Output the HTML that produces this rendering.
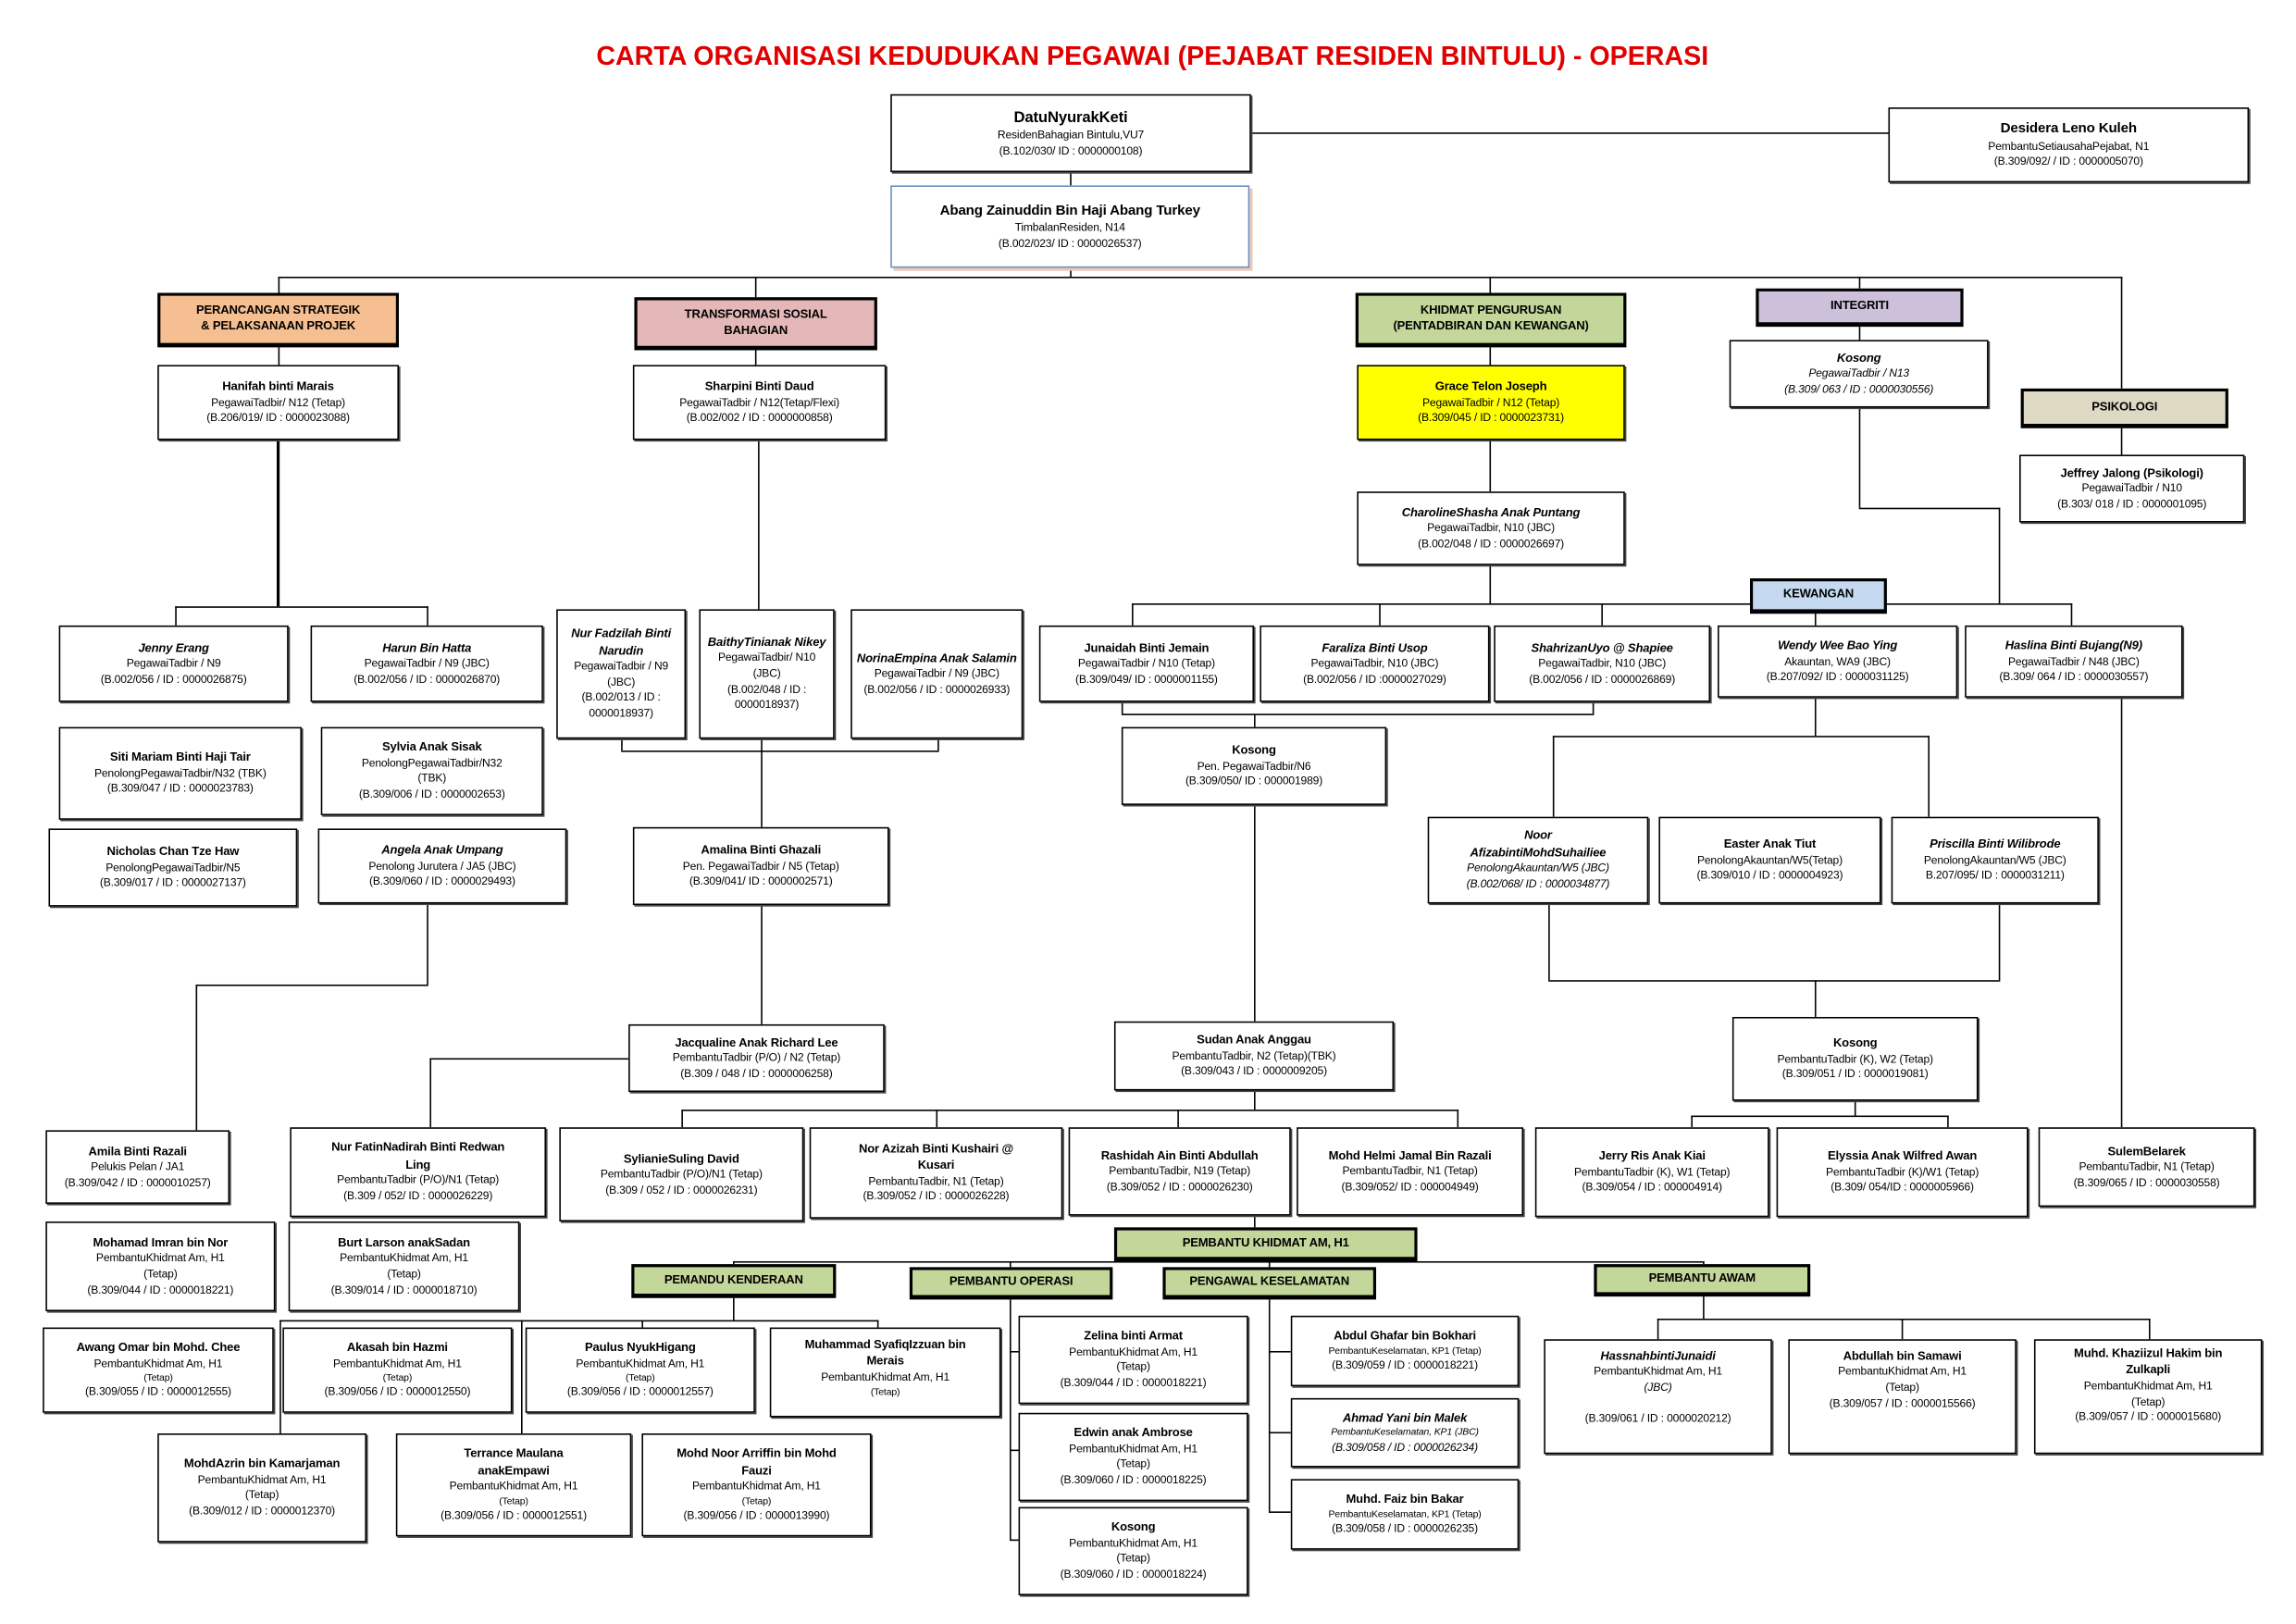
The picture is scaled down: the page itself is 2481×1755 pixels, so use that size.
<!DOCTYPE html>
<html><head><meta charset="utf-8">
<style>
html,body{margin:0;padding:0;background:#fff;width:2481px;height:1755px;overflow:hidden}
#c{position:absolute;left:0;top:0;width:1560px;height:1103px;transform:scale(1.5904);transform-origin:0 0;font-family:"Liberation Sans Narrow","Liberation Sans",sans-serif;color:#000}
.b{position:absolute;box-sizing:border-box;border:1px solid #000;box-shadow:1px 1px 0 #444;background:#fff;text-align:center;font-size:7.6px;line-height:1.4;display:flex;flex-direction:column;justify-content:center;padding:1px 3px;letter-spacing:-0.1px}
.b b{font-size:8.2px}
.i b{font-style:italic}
.ia{font-style:italic}
.s{position:absolute;box-sizing:border-box;border:2px solid #000;border-bottom-width:3px;text-align:center;font-size:8.2px;font-weight:bold;line-height:1.3;display:flex;flex-direction:column;justify-content:center;letter-spacing:-0.1px}
.h{position:absolute;height:1px;background:#000}
.v{position:absolute;width:1px;background:#000}
.t{font-size:6.6px}
</style></head><body><div id="c">
<div style="position:absolute;left:0;width:1566px;top:28px;text-align:center;color:#e00000;font-weight:bold;font-size:18px">CARTA ORGANISASI KEDUDUKAN PEGAWAI (PEJABAT RESIDEN BINTULU) - OPERASI</div>

<!-- lines -->
<div class="h" style="left:849px;top:90px;width:434px"></div>
<div class="v" style="left:727px;top:116px;height:10px"></div>
<div class="v" style="left:727px;top:182px;height:6px"></div>
<div class="h" style="left:189px;top:188px;width:1253px"></div>
<div class="v" style="left:189px;top:188px;height:11px"></div>
<div class="v" style="left:513px;top:188px;height:14px"></div>
<div class="v" style="left:1012px;top:188px;height:11px"></div>
<div class="v" style="left:1263px;top:188px;height:8px"></div>
<div class="v" style="left:1441px;top:188px;height:76px"></div>
<div class="v" style="left:189px;top:235px;height:13px"></div>
<div class="v" style="left:513px;top:237px;height:11px"></div>
<div class="v" style="left:1012px;top:235px;height:13px"></div>
<div class="v" style="left:1263px;top:221px;height:10px"></div>
<div class="v" style="left:1441px;top:290px;height:19px"></div>
<!-- perancangan -->
<div class="v" style="left:188px;top:299px;height:113px;width:2px"></div>
<div class="h" style="left:119px;top:412px;width:172px"></div>
<div class="v" style="left:119px;top:412px;height:13px"></div>
<div class="v" style="left:290px;top:412px;height:13px"></div>
<div class="v" style="left:290px;top:614px;height:55px"></div>
<div class="h" style="left:133px;top:669px;width:158px"></div>
<div class="v" style="left:133px;top:669px;height:99px"></div>
<!-- transformasi -->
<div class="v" style="left:515px;top:299px;height:115px"></div>
<div class="h" style="left:422px;top:510px;width:216px"></div>
<div class="v" style="left:422px;top:502px;height:8px"></div>
<div class="v" style="left:637px;top:502px;height:8px"></div>
<div class="v" style="left:517px;top:502px;height:60px"></div>
<div class="v" style="left:517px;top:615px;height:81px"></div>
<div class="h" style="left:292px;top:719px;width:135px"></div>
<div class="v" style="left:292px;top:719px;height:47px"></div>
<!-- khidmat -->
<div class="v" style="left:1012px;top:299px;height:35px"></div>
<div class="v" style="left:1012px;top:384px;height:26px"></div>
<div class="h" style="left:769px;top:410px;width:639px"></div>
<div class="v" style="left:769px;top:410px;height:15px"></div>
<div class="v" style="left:937px;top:410px;height:15px"></div>
<div class="v" style="left:1088px;top:410px;height:15px"></div>
<div class="v" style="left:1233px;top:410px;height:15px"></div>
<div class="v" style="left:1407px;top:410px;height:15px"></div>
<div class="v" style="left:1263px;top:277px;height:68px"></div>
<div class="h" style="left:1263px;top:345px;width:96px"></div>
<div class="v" style="left:1358px;top:345px;height:65px"></div>
<div class="v" style="left:1441px;top:474px;height:292px"></div>
<div class="h" style="left:762px;top:485px;width:321px"></div>
<div class="v" style="left:762px;top:477px;height:8px"></div>
<div class="v" style="left:1082px;top:477px;height:8px"></div>
<div class="v" style="left:852px;top:485px;height:9px"></div>
<div class="v" style="left:852px;top:547px;height:147px"></div>
<div class="v" style="left:1233px;top:474px;height:26px"></div>
<div class="h" style="left:1055px;top:500px;width:256px"></div>
<div class="v" style="left:1055px;top:500px;height:55px"></div>
<div class="v" style="left:1310px;top:500px;height:55px"></div>
<div class="v" style="left:1052px;top:614px;height:52px"></div>
<div class="v" style="left:1358px;top:614px;height:52px"></div>
<div class="h" style="left:1052px;top:666px;width:307px"></div>
<div class="v" style="left:1233px;top:666px;height:25px"></div>
<div class="v" style="left:1260px;top:748px;height:10px"></div>
<div class="h" style="left:1149px;top:758px;width:175px"></div>
<div class="v" style="left:1149px;top:758px;height:8px"></div>
<div class="v" style="left:1323px;top:758px;height:8px"></div>
<div class="v" style="left:852px;top:741px;height:13px"></div>
<div class="h" style="left:463px;top:754px;width:528px"></div>
<div class="v" style="left:463px;top:754px;height:12px"></div>
<div class="v" style="left:636px;top:754px;height:12px"></div>
<div class="v" style="left:800px;top:754px;height:12px"></div>
<div class="v" style="left:990px;top:754px;height:12px"></div>
<div class="v" style="left:852px;top:826px;height:8px"></div>
<!-- khidmat am -->
<div class="h" style="left:498px;top:857px;width:660px"></div>
<div class="v" style="left:498px;top:857px;height:3px"></div>
<div class="v" style="left:686px;top:857px;height:5px"></div>
<div class="v" style="left:862px;top:857px;height:5px"></div>
<div class="v" style="left:1157px;top:857px;height:3px"></div>
<div class="v" style="left:498px;top:881px;height:16px"></div>
<div class="h" style="left:190px;top:897px;width:407px"></div>
<div class="v" style="left:190px;top:897px;height:77px"></div>
<div class="v" style="left:354px;top:897px;height:77px"></div>
<div class="v" style="left:436px;top:897px;height:5px"></div>
<div class="v" style="left:596px;top:897px;height:5px"></div>
<div class="v" style="left:686px;top:882px;height:164px"></div>
<div class="h" style="left:686px;top:918px;width:6px"></div>
<div class="h" style="left:686px;top:985px;width:6px"></div>
<div class="h" style="left:686px;top:1046px;width:6px"></div>
<div class="v" style="left:862px;top:882px;height:145px"></div>
<div class="h" style="left:862px;top:918px;width:15px"></div>
<div class="h" style="left:862px;top:973px;width:15px"></div>
<div class="h" style="left:862px;top:1027px;width:15px"></div>
<div class="v" style="left:1157px;top:880px;height:16px"></div>
<div class="h" style="left:1126px;top:896px;width:335px"></div>
<div class="v" style="left:1126px;top:896px;height:14px"></div>
<div class="v" style="left:1292px;top:896px;height:14px"></div>
<div class="v" style="left:1460px;top:896px;height:14px"></div>

<!-- section headers -->
<div class="s" style="left:107px;top:199px;width:164px;height:37px;background:#f5bf92">PERANCANGAN STRATEGIK<br>&amp; PELAKSANAAN PROJEK</div>
<div class="s" style="left:431px;top:202px;width:165px;height:36px;background:#e4b8b8">TRANSFORMASI SOSIAL<br>BAHAGIAN</div>
<div class="s" style="left:921px;top:199px;width:184px;height:37px;background:#c4d79b">KHIDMAT PENGURUSAN<br>(PENTADBIRAN DAN KEWANGAN)</div>
<div class="s" style="left:1193px;top:196px;width:141px;height:26px;background:#ccc0da">INTEGRITI</div>
<div class="s" style="left:1373px;top:264px;width:141px;height:27px;background:#ddd9c3">PSIKOLOGI</div>
<div class="s" style="left:1189px;top:393px;width:93px;height:24px;background:#c5d9f1">KEWANGAN</div>
<div class="s" style="left:757px;top:834px;width:206px;height:23px;background:#c4d79b">PEMBANTU KHIDMAT AM, H1</div>
<div class="s" style="left:429px;top:859px;width:139px;height:23px;background:#c4d79b">PEMANDU KENDERAAN</div>
<div class="s" style="left:618px;top:861px;width:138px;height:22px;background:#c4d79b">PEMBANTU OPERASI</div>
<div class="s" style="left:790px;top:861px;width:145px;height:22px;background:#c4d79b">PENGAWAL KESELAMATAN</div>
<div class="s" style="left:1083px;top:859px;width:147px;height:22px;background:#c4d79b">PEMBANTU AWAM</div>

<!-- boxes -->
<div class="b" style="left:605px;top:64px;width:245px;height:53px"><b style="font-size:10.5px">DatuNyurakKeti</b>ResidenBahagian Bintulu,VU7<br>(B.102/030/ ID : 0000000108)</div>
<div class="b" style="left:605px;top:126px;width:244px;height:56px;border-color:#6d8ebf;box-shadow:2px 2px 0 #e8c8b8"><b style="font-size:9.5px">Abang Zainuddin Bin Haji Abang Turkey</b>TimbalanResiden, N14<br>(B.002/023/ ID : 0000026537)</div>
<div class="b" style="left:1283px;top:73px;width:245px;height:51px"><b style="font-size:9.5px">Desidera Leno Kuleh</b>PembantuSetiausahaPejabat, N1<br>(B.309/092/ / ID : 0000005070)</div>

<div class="b" style="left:107px;top:248px;width:164px;height:51px"><b>Hanifah binti Marais</b>PegawaiTadbir/ N12 (Tetap)<br>(B.206/019/ ID : 0000023088)</div>
<div class="b" style="left:430px;top:248px;width:172px;height:51px"><b>Sharpini Binti Daud</b>PegawaiTadbir / N12(Tetap/Flexi)<br>(B.002/002 / ID : 0000000858)</div>
<div class="b" style="left:922px;top:248px;width:182px;height:51px;background:#ffff00"><b>Grace Telon Joseph</b>PegawaiTadbir / N12 (Tetap)<br>(B.309/045 / ID : 0000023731)</div>
<div class="b ia" style="left:1175px;top:231px;width:176px;height:46px"><b>Kosong</b>PegawaiTadbir / N13<br>(B.309/ 063 / ID : 0000030556)</div>
<div class="b" style="left:1372px;top:309px;width:153px;height:46px"><b>Jeffrey Jalong (Psikologi)</b>PegawaiTadbir / N10<br>(B.303/ 018 / ID : 0000001095)</div>
<div class="b i" style="left:922px;top:334px;width:182px;height:50px"><b>CharolineShasha Anak Puntang</b>PegawaiTadbir, N10 (JBC)<br>(B.002/048 / ID : 0000026697)</div>

<div class="b i" style="left:40px;top:425px;width:156px;height:52px"><b>Jenny Erang</b>PegawaiTadbir / N9<br>(B.002/056 / ID : 0000026875)</div>
<div class="b i" style="left:211px;top:425px;width:158px;height:52px"><b>Harun Bin Hatta</b>PegawaiTadbir / N9 (JBC)<br>(B.002/056 / ID : 0000026870)</div>
<div class="b" style="left:40px;top:494px;width:165px;height:63px"><b>Siti Mariam Binti Haji Tair</b>PenolongPegawaiTadbir/N32 (TBK)<br>(B.309/047 / ID : 0000023783)</div>
<div class="b" style="left:218px;top:494px;width:151px;height:60px"><b>Sylvia Anak Sisak</b>PenolongPegawaiTadbir/N32<br>(TBK)<br>(B.309/006 / ID : 0000002653)</div>
<div class="b" style="left:33px;top:563px;width:169px;height:53px"><b>Nicholas Chan Tze Haw</b>PenolongPegawaiTadbir/N5<br>(B.309/017 / ID : 0000027137)</div>
<div class="b i" style="left:216px;top:563px;width:169px;height:51px"><b>Angela Anak Umpang</b>Penolong Jurutera / JA5 (JBC)<br>(B.309/060 / ID : 0000029493)</div>

<div class="b i" style="left:378px;top:414px;width:88px;height:88px"><b>Nur Fadzilah Binti Narudin</b>PegawaiTadbir / N9 (JBC)<br>(B.002/013 / ID : 0000018937)</div>
<div class="b i" style="left:475px;top:414px;width:92px;height:88px"><b>BaithyTinianak Nikey</b>PegawaiTadbir/ N10 (JBC)<br>(B.002/048 / ID : 0000018937)</div>
<div class="b i" style="left:578px;top:414px;width:117px;height:88px"><b>NorinaEmpina Anak Salamin</b>PegawaiTadbir / N9 (JBC)<br>(B.002/056 / ID : 0000026933)</div>
<div class="b" style="left:430px;top:562px;width:174px;height:53px"><b>Amalina Binti Ghazali</b>Pen. PegawaiTadbir / N5 (Tetap)<br>(B.309/041/ ID : 0000002571)</div>
<div class="b" style="left:427px;top:696px;width:174px;height:46px"><b>Jacqualine Anak Richard Lee</b>PembantuTadbir (P/O) / N2 (Tetap)<br>(B.309 / 048 / ID : 0000006258)</div>

<div class="b" style="left:706px;top:425px;width:146px;height:52px"><b>Junaidah Binti Jemain</b>PegawaiTadbir / N10 (Tetap)<br>(B.309/049/ ID : 0000001155)</div>
<div class="b i" style="left:856px;top:425px;width:156px;height:52px"><b>Faraliza Binti Usop</b>PegawaiTadbir, N10 (JBC)<br>(B.002/056 / ID :0000027029)</div>
<div class="b i" style="left:1015px;top:425px;width:147px;height:52px"><b>ShahrizanUyo @ Shapiee</b>PegawaiTadbir, N10 (JBC)<br>(B.002/056 / ID : 0000026869)</div>
<div class="b i" style="left:1167px;top:425px;width:163px;height:49px"><b>Wendy Wee Bao Ying</b>Akauntan, WA9 (JBC)<br>(B.207/092/ ID : 0000031125)</div>
<div class="b i" style="left:1335px;top:425px;width:148px;height:49px"><b>Haslina Binti Bujang(N9)</b>PegawaiTadbir / N48 (JBC)<br>(B.309/ 064 / ID : 0000030557)</div>
<div class="b" style="left:762px;top:494px;width:180px;height:53px"><b>Kosong</b>Pen. PegawaiTadbir/N6<br>(B.309/050/ ID : 000001989)</div>
<div class="b ia" style="left:970px;top:555px;width:150px;height:59px"><b>Noor<br>AfizabintiMohdSuhailiee</b>PenolongAkauntan/W5 (JBC)<br>(B.002/068/ ID : 0000034877)</div>
<div class="b" style="left:1127px;top:555px;width:151px;height:59px"><b>Easter Anak Tiut</b>PenolongAkauntan/W5(Tetap)<br>(B.309/010 / ID : 0000004923)</div>
<div class="b i" style="left:1285px;top:555px;width:141px;height:59px"><b>Priscilla Binti Wilibrode</b>PenolongAkauntan/W5 (JBC)<br>B.207/095/ ID : 0000031211)</div>
<div class="b" style="left:757px;top:694px;width:190px;height:47px"><b>Sudan Anak Anggau</b>PembantuTadbir, N2 (Tetap)(TBK)<br>(B.309/043 / ID : 0000009205)</div>
<div class="b" style="left:1177px;top:691px;width:167px;height:57px"><b>Kosong</b>PembantuTadbir (K), W2 (Tetap)<br>(B.309/051 / ID : 0000019081)</div>

<div class="b" style="left:31px;top:768px;width:125px;height:50px"><b>Amila Binti Razali</b>Pelukis Pelan / JA1<br>(B.309/042 / ID : 0000010257)</div>
<div class="b" style="left:197px;top:766px;width:174px;height:61px"><b>Nur FatinNadirah Binti Redwan<br>Ling</b>PembantuTadbir (P/O)/N1 (Tetap)<br>(B.309 / 052/ ID : 0000026229)</div>
<div class="b" style="left:380px;top:766px;width:166px;height:64px"><b>SylianieSuling David</b>PembantuTadbir (P/O)/N1 (Tetap)<br>(B.309 / 052 / ID : 0000026231)</div>
<div class="b" style="left:550px;top:766px;width:172px;height:62px"><b>Nor Azizah Binti Kushairi @<br>Kusari</b>PembantuTadbir, N1 (Tetap)<br>(B.309/052 / ID : 0000026228)</div>
<div class="b" style="left:726px;top:766px;width:151px;height:60px"><b>Rashidah Ain Binti Abdullah</b>PembantuTadbir, N19 (Tetap)<br>(B.309/052 / ID : 0000026230)</div>
<div class="b" style="left:881px;top:766px;width:154px;height:60px"><b>Mohd Helmi Jamal Bin Razali</b>PembantuTadbir, N1 (Tetap)<br>(B.309/052/ ID : 000004949)</div>
<div class="b" style="left:1043px;top:766px;width:159px;height:61px"><b>Jerry Ris Anak Kiai</b>PembantuTadbir (K), W1 (Tetap)<br>(B.309/054 / ID : 000004914)</div>
<div class="b" style="left:1207px;top:766px;width:171px;height:61px"><b>Elyssia Anak Wilfred Awan</b>PembantuTadbir (K)/W1 (Tetap)<br>(B.309/ 054/ID : 0000005966)</div>
<div class="b" style="left:1385px;top:766px;width:147px;height:54px"><b>SulemBelarek</b>PembantuTadbir, N1 (Tetap)<br>(B.309/065 / ID : 0000030558)</div>

<div class="b" style="left:31px;top:830px;width:156px;height:61px"><b>Mohamad Imran bin Nor</b>PembantuKhidmat Am, H1<br>(Tetap)<br>(B.309/044 / ID : 0000018221)</div>
<div class="b" style="left:196px;top:830px;width:157px;height:61px"><b>Burt Larson anakSadan</b>PembantuKhidmat Am, H1<br>(Tetap)<br>(B.309/014 / ID : 0000018710)</div>
<div class="b" style="left:29px;top:902px;width:157px;height:58px"><b>Awang Omar bin Mohd. Chee</b>PembantuKhidmat Am, H1<br><span class="t">(Tetap)</span>(B.309/055 / ID : 0000012555)</div>
<div class="b" style="left:192px;top:902px;width:156px;height:58px"><b>Akasah bin Hazmi</b>PembantuKhidmat Am, H1<br><span class="t">(Tetap)</span>(B.309/056 / ID : 0000012550)</div>
<div class="b" style="left:357px;top:902px;width:156px;height:58px"><b>Paulus NyukHigang</b>PembantuKhidmat Am, H1<br><span class="t">(Tetap)</span>(B.309/056 / ID : 0000012557)</div>
<div class="b" style="left:523px;top:902px;width:157px;height:61px;justify-content:flex-start;padding-top:5px"><b>Muhammad SyafiqIzzuan bin<br>Merais</b>PembantuKhidmat Am, H1<br><span class="t">(Tetap)</span></div>
<div class="b" style="left:107px;top:974px;width:142px;height:74px"><b>MohdAzrin bin Kamarjaman</b>PembantuKhidmat Am, H1<br>(Tetap)<br>(B.309/012 / ID : 0000012370)</div>
<div class="b" style="left:269px;top:974px;width:160px;height:70px"><b>Terrance Maulana<br>anakEmpawi</b>PembantuKhidmat Am, H1<br><span class="t">(Tetap)</span>(B.309/056 / ID : 0000012551)</div>
<div class="b" style="left:436px;top:974px;width:156px;height:70px"><b>Mohd Noor Arriffin bin Mohd<br>Fauzi</b>PembantuKhidmat Am, H1<br><span class="t">(Tetap)</span>(B.309/056 / ID : 0000013990)</div>

<div class="b" style="left:692px;top:894px;width:156px;height:60px"><b>Zelina binti Armat</b>PembantuKhidmat Am, H1<br>(Tetap)<br>(B.309/044 / ID : 0000018221)</div>
<div class="b" style="left:692px;top:960px;width:156px;height:60px"><b>Edwin anak Ambrose</b>PembantuKhidmat Am, H1<br>(Tetap)<br>(B.309/060 / ID : 0000018225)</div>
<div class="b" style="left:692px;top:1024px;width:156px;height:60px"><b>Kosong</b>PembantuKhidmat Am, H1<br>(Tetap)<br>(B.309/060 / ID : 0000018224)</div>
<div class="b" style="left:877px;top:894px;width:155px;height:48px"><b>Abdul Ghafar bin Bokhari</b><span class="t">PembantuKeselamatan, KP1 (Tetap)</span>(B.309/059 / ID : 0000018221)</div>
<div class="b ia" style="left:877px;top:950px;width:155px;height:47px"><b>Ahmad Yani bin Malek</b><span class="t">PembantuKeselamatan, KP1 (JBC)</span>(B.309/058 / ID : 0000026234)</div>
<div class="b" style="left:877px;top:1005px;width:155px;height:48px"><b>Muhd. Faiz bin Bakar</b><span class="t">PembantuKeselamatan, KP1 (Tetap)</span>(B.309/058 / ID : 0000026235)</div>
<div class="b" style="left:1049px;top:910px;width:155px;height:78px;justify-content:flex-start;padding-top:5px"><b style="font-style:italic">HassnahbintiJunaidi</b>PembantuKhidmat Am, H1 <i>(JBC)</i><br>(B.309/061 / ID : 0000020212)</div>
<div class="b" style="left:1215px;top:910px;width:155px;height:78px;justify-content:flex-start;padding-top:5px"><b>Abdullah bin Samawi</b>PembantuKhidmat Am, H1<br>(Tetap)<br>(B.309/057 / ID : 0000015566)</div>
<div class="b" style="left:1382px;top:910px;width:155px;height:78px;justify-content:flex-start;padding-top:3px"><b>Muhd. Khaziizul Hakim bin<br>Zulkapli</b>PembantuKhidmat Am, H1<br>(Tetap)<br>(B.309/057 / ID : 0000015680)</div>
</div></body></html>
